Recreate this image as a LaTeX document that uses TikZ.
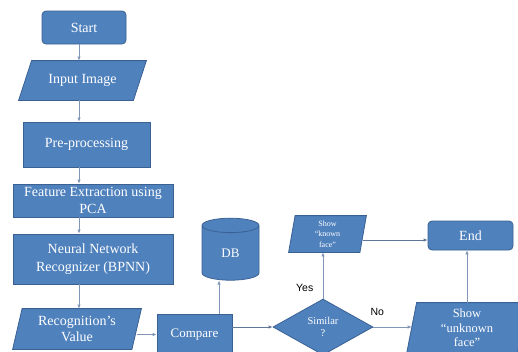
\documentclass[tikz,border=0pt]{standalone}
\usepackage{fontspec}
\setmainfont{Liberation Serif}
\newfontfamily\labelfont{Liberation Sans}
\usetikzlibrary{shapes.geometric,arrows.meta,backgrounds}
\definecolor{boxfill}{HTML}{4F81BD}
\definecolor{boxline}{HTML}{3B6193}
\definecolor{flow}{HTML}{8195B5}
\definecolor{flowdark}{HTML}{5F7697}
% parallelogram behind a text node: #1 node name, #2 half of the slant
\newcommand{\slantbox}[2]{%
  \path[ioshape] ([xshift=-#2]#1.south west) -- ([xshift=#2]#1.north west)
    -- ([xshift=#2]#1.north east) -- ([xshift=-#2]#1.south east) -- cycle;}
\begin{document}
\begin{tikzpicture}[x=1pt,y=-1pt,
  base/.style={fill=boxfill, draw=boxline, line width=0.8pt, text=white,
    align=center, inner sep=0pt, font=\fontsize{14}{17.5}\selectfont},
  termbox/.style={base, rectangle, rounded corners=4pt},
  procbox/.style={base, rectangle},
  iobox/.style={base, rectangle, fill=none, draw=none},
  ioshape/.style={fill=boxfill, draw=boxline, line width=0.8pt},
  decbox/.style={base, diamond, font=\fontsize{10.5}{12}\selectfont},
  storebox/.style={base, cylinder, shape border rotate=90, aspect=0.8,
    font=\fontsize{13}{15}\selectfont},
  flowline/.style={draw=flow, line width=0.8pt, -{Latex[length=4pt,width=3.5pt]}},
  answer/.style={font=\labelfont\fontsize{10.5}{12}\selectfont, text=black}
]
\useasboundingbox (0,0) rectangle (518,351);
\clip (0,0) rectangle (518,351);

% left column
\node[termbox, minimum width=84pt, minimum height=33pt] (start) at (84,27.5) {Start};
\node[iobox, minimum width=114pt, minimum height=39pt] (input) at (82.5,80.5) {Input Image};
\node[procbox, minimum width=127pt, minimum height=45pt] (pre) at (86.5,144.5) {Pre-processing};
\node[procbox, minimum width=160pt, minimum height=33pt] (feat) at (93,200.5)
  {Feature Extraction using\\PCA};
\node[procbox, minimum width=160pt, minimum height=50pt] (nn) at (93,259)
  {Neural Network\\Recognizer (BPNN)};
\node[iobox, minimum width=118.5pt, minimum height=40pt, font=\fontsize{14}{16.5}\selectfont]
  (rv) at (77,329) {Recognition's\\Value};

% comparison stage
\node[procbox, minimum width=75pt, minimum height=41pt, font=\fontsize{13}{15}\selectfont]
  (cmp) at (194.5,334.5) {Compare};
\node[storebox, minimum width=57pt, minimum height=62pt] (db) at (230.5,253) {DB};
\node[decbox, minimum width=100pt, minimum height=56pt] (sim) at (323,327) {Similar\\?};

% results
\node[iobox, minimum width=70.5pt, minimum height=36pt, font=\fontsize{8}{10.5}\selectfont]
  (known) at (327.5,234) {Show\\``known\\face''};
\node[iobox, minimum width=110pt, minimum height=50pt, font=\fontsize{12.5}{14.5}\selectfont]
  (unknown) at (467,328) {Show\\``unknown\\face''};
\node[termbox, minimum width=85pt, minimum height=29pt] (end) at (470.5,235.5) {End};

% input/output shapes under their texts
\begin{scope}[on background layer]
  \slantbox{input}{6.5pt}
  \slantbox{rv}{4.75pt}
  \slantbox{known}{3.25pt}
  \slantbox{unknown}{5pt}
\end{scope}

% vertical flow of the left column
\coordinate (spine) at (79,0);
\draw[flowline] (start.south -| spine) -- (input.north -| spine);
\draw[flowline] (input.south -| spine) -- (pre.north -| spine);
\draw[flowline] (pre.south -| spine) -- (feat.north -| spine);
\draw[flowline] (feat.south -| spine) -- (nn.north -| spine);
\draw[flowline] (nn.south -| spine) -- (rv.north -| spine);

% comparison and decision
\coordinate (dbin) at (219,0);
\draw[flowline] (rv.east |- cmp.west) -- (cmp.west);
\draw[flowline] (cmp.north -| dbin) -- (db.south -| dbin);
\draw[flowline, draw=flowdark] (cmp.east |- sim.west) -- (sim.west);
\draw[flowline] (sim.north) -- (sim.north |- known.south)
  node[answer, pos=0.24, left=6pt] (yes) {Yes};
\draw[flowline] (sim.east) -- (sim.east -| unknown.west)
  node[answer, pos=0.1, above=8pt] (no) {No};
\coordinate (endin) at (0,240);
\draw[flowline, draw=flowdark] (known.east |- endin) -- (end.west |- endin);
\draw[flowline] (unknown.north) -- (end.south -| unknown.north);
\end{tikzpicture}
\end{document}
